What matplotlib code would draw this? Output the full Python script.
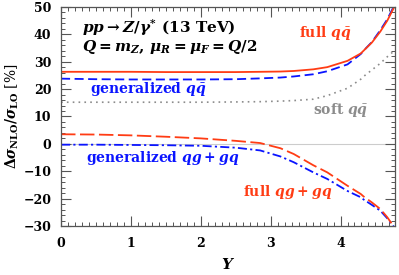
import numpy as np
import matplotlib
matplotlib.use("Agg")
import matplotlib.pyplot as plt
from matplotlib.ticker import MultipleLocator

# values
Y = [0.0, 0.5, 1.0, 1.5, 2.0, 2.5, 2.85, 3.14, 3.33, 3.61, 3.81, 4.1, 4.29, 4.33, 4.45, 4.57, 4.67, 4.77]

full_qqbar = [26.3, 26.3, 26.3, 26.2, 26.2, 26.2, 26.3, 26.4, 26.6, 27.2, 28.0, 30.3, 33.0, 34.0, 37.0, 41.0, 45.0, 50.0]
gen_qqbar = [23.8, 23.6, 23.5, 23.5, 23.5, 23.6, 23.9, 24.2, 24.6, 25.4, 26.5, 29.0, 32.8, 34.0, 37.2, 41.5, 45.5, 50.5]
soft_qqbar = [15.2, 15.2, 15.2, 15.2, 15.2, 15.3, 15.4, 15.6, 15.8, 16.3, 17.6, 20.3, 23.6, 24.6, 27.0, 29.4, 31.8, 34.0]

full_qg = [3.5, 3.4, 3.1, 2.6, 2.0, 1.1, 0.3, -1.6, -3.7, -7.8, -10.4, -15.3, -18.3, -19.2, -21.4, -23.8, -26.8, -30.5]
gen_qg = [-0.3, -0.3, -0.4, -0.5, -0.7, -1.4, -2.4, -4.6, -6.7, -10.4, -12.8, -17.2, -19.5, -20.3, -22.3, -24.4, -27.2, -30.5]

xticks = [0, 1, 2, 3, 4]

red = '#ff3c14'
blue = '#0a14ff'
gray = '#8c8c8c'

plt.rcParams['font.family'] = ['DejaVu Serif']
plt.rcParams['font.weight'] = 'bold'
plt.rcParams['mathtext.fontset'] = 'custom'
plt.rcParams['mathtext.rm'] = 'DejaVu Serif:bold'
plt.rcParams['mathtext.bf'] = 'DejaVu Serif:bold'
plt.rcParams['mathtext.it'] = 'DejaVu Serif:italic:bold'

fig = plt.figure(figsize=(3.99, 2.75), dpi=100)
ax = fig.add_axes([0.153, 0.178, 0.837, 0.797])

ax.axhline(0, color='#cccccc', lw=0.8, zorder=0)

ax.plot(Y, soft_qqbar, color=gray, lw=1.2, ls=(0, (1, 2.5)))
ax.plot(Y, gen_qqbar, color=blue, lw=1.3, ls=(0, (5, 2.5)))
ax.plot(Y, full_qqbar, color=red, lw=1.3)
ax.plot(Y, gen_qg, color=blue, lw=1.3, ls=(0, (5, 1.8, 1.2, 1.8)))
ax.plot(Y, full_qg, color=red, lw=1.3, ls=(0, (8, 2.5)))

ax.set_xlim(0, 4.78)
ax.set_ylim(-30, 50)
ax.set_xticks(xticks)
ax.xaxis.set_minor_locator(MultipleLocator(0.1))
ax.yaxis.set_major_locator(MultipleLocator(10))
ax.yaxis.set_minor_locator(MultipleLocator(2))
ax.tick_params(which='both', direction='in', top=True, right=True,
               color='#555555', labelsize=9)
ax.tick_params(axis='x', which='major', pad=8)
ax.tick_params(axis='y', which='major', pad=7)
ax.tick_params(which='major', length=7, width=0.8)
ax.tick_params(which='minor', length=3, width=0.7)
for s in ax.spines.values():
    s.set_color('#555555')
    s.set_linewidth(0.9)

ax.set_xlabel(r'$Y$', fontsize=11, labelpad=5)
ax.set_ylabel(r'$\Delta\sigma_{\rm NLO}/\sigma_{\rm LO}$ [%]', fontsize=10, labelpad=2)

ax.text(0.3, 42.5, r'$pp \to Z/\gamma^{*}$ (13 TeV)', fontsize=11, va='center')
ax.text(0.3, 35.5, r'$Q = m_Z$, $\mu_R = \mu_F = Q/2$', fontsize=11, va='center')

ax.text(3.78, 40.5, r'full $q\bar{q}$', color=red, fontsize=10, ha='center', va='center')
ax.text(1.25, 20.2, r'generalized $q\bar{q}$', color=blue, fontsize=10, ha='center', va='center')
ax.text(4.0, 12.3, r'soft $q\bar{q}$', color=gray, fontsize=10, ha='center', va='center')
ax.text(1.45, -5.0, r'generalized $qg + gq$', color=blue, fontsize=10, ha='center', va='center')
ax.text(3.25, -17.5, r'full $qg + gq$', color=red, fontsize=10, ha='center', va='center')

fig.savefig('out.png', dpi=100)
